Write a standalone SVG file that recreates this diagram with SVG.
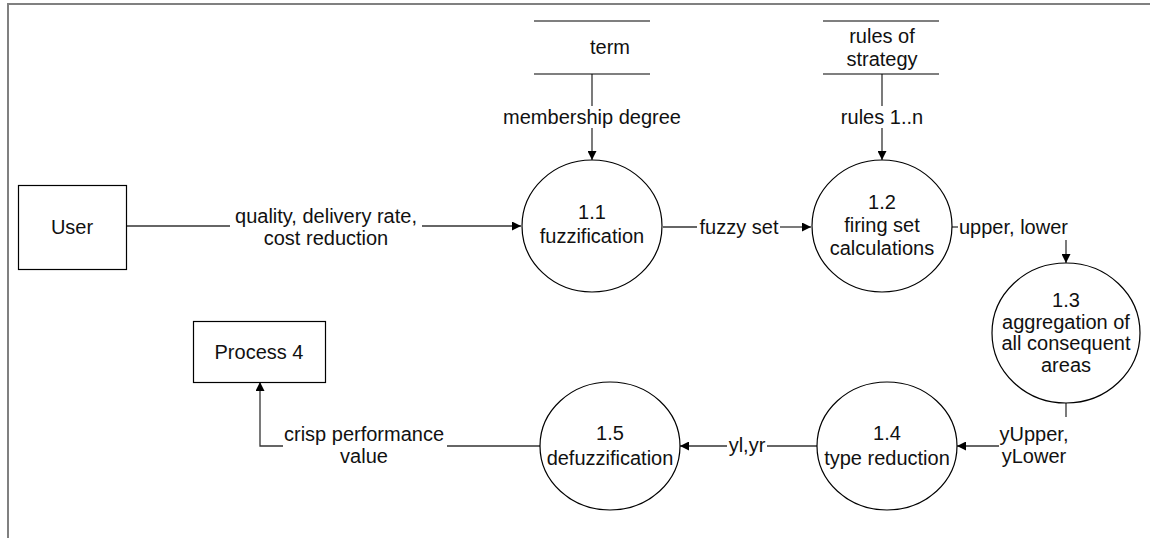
<svg xmlns="http://www.w3.org/2000/svg" width="1150" height="538" viewBox="0 0 1150 538">
<style>
text{font-family:"Liberation Sans",Arial,sans-serif;font-size:20px;fill:#111;text-anchor:middle}
.n{fill:#fff;stroke:#000;stroke-width:1.2}
.s{stroke:#000;stroke-width:1.2;fill:none}
.c{stroke:#333;stroke-width:1.3;fill:none}
.f{stroke:#808080;stroke-width:2;fill:none}
</style>
<defs>
<marker id="ah" viewBox="0 0 10 10" refX="10" refY="5" markerWidth="9" markerHeight="9" markerUnits="userSpaceOnUse" orient="auto">
<path d="M0,0 L10,5 L0,10 z" fill="#000"/>
</marker>
</defs>
<rect width="1150" height="538" fill="#fff"/>
<path class="f" d="M8,538 V4 H1150"/>

<g id="connectors">
<path class="c" d="M127,226 H230"/>
<path class="c" d="M422,226 H521" marker-end="url(#ah)"/>
<path class="c" d="M592,74 V106"/>
<path class="c" d="M592,128 V160" marker-end="url(#ah)"/>
<path class="c" d="M882,74 V106"/>
<path class="c" d="M882,128 V160" marker-end="url(#ah)"/>
<path class="c" d="M663,227 H697"/>
<path class="c" d="M780,227 H811" marker-end="url(#ah)"/>
<path class="c" d="M952,227 H958"/>
<path class="c" d="M1066,240 V263" marker-end="url(#ah)"/>
<path class="c" d="M1066,403 V417"/>
<path class="c" d="M999,446 H957" marker-end="url(#ah)"/>
<path class="c" d="M817,446 H767"/>
<path class="c" d="M727,446 H680" marker-end="url(#ah)"/>
<path class="c" d="M540,446 H447"/>
<path class="c" d="M283,446 H260 V382" marker-end="url(#ah)"/>
<text x="326" y="223">quality, delivery rate,</text>
<text x="326" y="245">cost reduction</text>
<text x="592" y="124">membership degree</text>
<text x="882" y="124">rules 1..n</text>
<text x="739" y="234">fuzzy set</text>
<text x="959" y="234" style="text-anchor:start">upper, lower</text>
<text x="1034" y="441">yUpper,</text>
<text x="1034" y="463">yLower</text>
<text x="747" y="452">yl,yr</text>
<text x="364" y="441">crisp performance</text>
<text x="364" y="463">value</text>
</g>

<g id="term">
<path class="s" d="M534,21 H650 M534,74 H650"/>
<text x="610" y="54">term</text>
</g>
<g id="rules">
<path class="s" d="M823,21 H939 M823,74 H939"/>
<text x="882" y="43">rules of</text>
<text x="882" y="66">strategy</text>
</g>
<g id="user">
<rect class="n" x="18.5" y="185.5" width="108" height="84"/>
<text x="72" y="234">User</text>
</g>
<g id="process4">
<rect class="n" x="193.5" y="321.5" width="132" height="61"/>
<text x="259" y="359">Process 4</text>
</g>
<g id="p11">
<ellipse class="n" cx="592" cy="226" rx="70" ry="66"/>
<text x="592" y="219">1.1</text>
<text x="592" y="243">fuzzification</text>
</g>
<g id="p12">
<ellipse class="n" cx="882" cy="226" rx="70" ry="66"/>
<text x="882" y="209">1.2</text>
<text x="882" y="232">firing set</text>
<text x="882" y="255">calculations</text>
</g>
<g id="p13">
<ellipse class="n" cx="1066" cy="333" rx="74" ry="70"/>
<text x="1066" y="307">1.3</text>
<text x="1066" y="329">aggregation of</text>
<text x="1066" y="350">all consequent</text>
<text x="1066" y="372">areas</text>
</g>
<g id="p14">
<ellipse class="n" cx="887" cy="446" rx="70" ry="64"/>
<text x="887" y="440">1.4</text>
<text x="887" y="465">type reduction</text>
</g>
<g id="p15">
<ellipse class="n" cx="610" cy="446" rx="70" ry="64"/>
<text x="610" y="440">1.5</text>
<text x="610" y="465">defuzzification</text>
</g>
</svg>
